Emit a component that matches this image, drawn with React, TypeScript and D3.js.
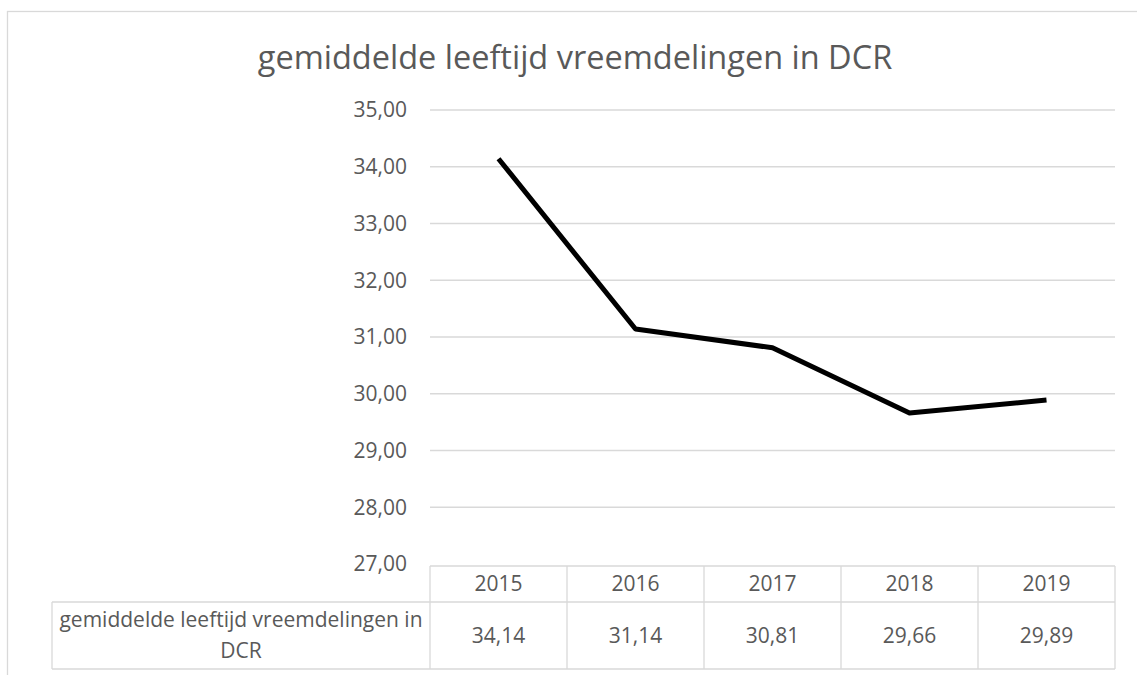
import * as d3 from "d3";

const years = ["2015", "2016", "2017", "2018", "2019"];
const values = [34.14, 31.14, 30.81, 29.66, 29.89];
const valueLabels = ["34,14", "31,14", "30,81", "29,66", "29,89"];
const yTicks = [27, 28, 29, 30, 31, 32, 33, 34, 35];
const seriesName = "gemiddelde leeftijd vreemdelingen in DCR";

const width = 1137;
const height = 675;
const plot = { left: 430, right: 1115, top: 110, bottom: 564 };
const rowBottom1 = 602;
const rowBottom2 = 669;
const labelLeft = 52;

const textColor = "#595959";
const gridColor = "#d9d9d9";
const font = "'Open Sans', sans-serif";
const fs = 21;

export default function App() {
  const x = d3.scaleBand().domain(years).range([plot.left, plot.right]).padding(0);
  const y = d3.scaleLinear().domain([27, 35]).range([plot.bottom, plot.top]);
  const fmt = (v: number) => v.toFixed(2).replace(".", ",");

  const line = d3
    .line<number>()
    .x((_, i) => (x(years[i]) ?? 0) + x.bandwidth() / 2)
    .y((d) => y(d));

  const labelX = (labelLeft + plot.left) / 2;

  return (
    <svg
      width={width}
      height={height}
      style={{ position: "fixed", left: 0, top: 0, background: "#fff" }}
      fontFamily={font}
    >
      <rect x={7.5} y={11.5} width={1300} height={900} fill="#fff" stroke={gridColor} strokeWidth={1.3} />

      <text x={575} y={69} textAnchor="middle" fontSize={32.5} fill={textColor}>
        {seriesName}
      </text>

      {yTicks.map((t) => (
        <g key={t}>
          {t > 27 && (
            <line x1={plot.left} x2={plot.right} y1={y(t)} y2={y(t)} stroke={gridColor} strokeWidth={1.3} />
          )}
          <text x={407} y={y(t)} dy="0.35em" textAnchor="end" fontSize={fs} fill={textColor}>
            {fmt(t)}
          </text>
        </g>
      ))}

      {/* data table */}
      <g stroke={gridColor} strokeWidth={1.3} fill="none">
        <line x1={plot.left} x2={plot.right} y1={plot.bottom + 2} y2={plot.bottom + 2} />
        <line x1={labelLeft} x2={plot.right} y1={rowBottom1} y2={rowBottom1} />
        <line x1={labelLeft} x2={plot.right} y1={rowBottom2} y2={rowBottom2} />
        <line x1={labelLeft} x2={labelLeft} y1={rowBottom1} y2={rowBottom2} />
        {years.map((yr) => (
          <line key={yr} x1={x(yr)} x2={x(yr)} y1={plot.bottom + 2} y2={rowBottom2} />
        ))}
        <line x1={plot.right} x2={plot.right} y1={plot.bottom + 2} y2={rowBottom2} />
      </g>
      {years.map((yr, i) => (
        <g key={yr}>
          <text
            x={(x(yr) ?? 0) + x.bandwidth() / 2}
            y={(plot.bottom + 2 + rowBottom1) / 2}
            dy="0.35em"
            textAnchor="middle"
            fontSize={fs}
            fill={textColor}
          >
            {yr}
          </text>
          <text
            x={(x(yr) ?? 0) + x.bandwidth() / 2}
            y={(rowBottom1 + rowBottom2) / 2}
            dy="0.35em"
            textAnchor="middle"
            fontSize={fs}
            fill={textColor}
          >
            {valueLabels[i]}
          </text>
        </g>
      ))}
      <text x={labelX} y={627} textAnchor="middle" fontSize={fs} fill={textColor}>
        <tspan x={labelX} dy="0">gemiddelde leeftijd vreemdelingen in</tspan>
        <tspan x={labelX} dy="31">DCR</tspan>
      </text>

      <path d={line(values) ?? ""} fill="none" stroke="#000" strokeWidth={5} strokeLinejoin="round" />
    </svg>
  );
}
